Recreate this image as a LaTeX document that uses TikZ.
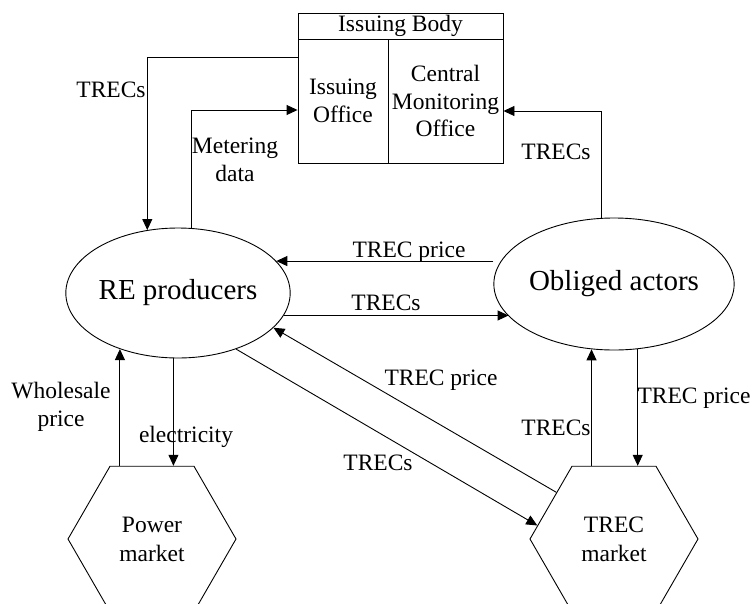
\documentclass[tikz,border=0pt]{standalone}
\usepackage{fontspec}
\setmainfont{Liberation Serif}
\usetikzlibrary{shapes.geometric,arrows.meta}
\begin{document}
\begin{tikzpicture}[x=1pt,y=-1pt,
  lbl/.style={font=\fontsize{23.5}{27.5}\selectfont, inner sep=0pt, align=center},
  arr/.style={-{Triangle[length=11pt,width=10pt]}, line width=0.9pt},
  boxnode/.style={draw, line width=0.9pt, inner sep=0pt, align=center, font=\fontsize{23.5}{27.5}\selectfont},
  ell/.style={ellipse, draw, line width=0.9pt, inner sep=0pt, font=\fontsize{29}{34}\selectfont},
  hex/.style={regular polygon, regular polygon sides=6, draw, line width=0.9pt, inner sep=0pt, minimum size=168pt, align=center, font=\fontsize{23.5}{29}\selectfont}]
\clip (0,0) rectangle (753,603);
% Issuing body
\node[boxnode, minimum width=205pt, minimum height=26pt] (ib) at (400.5,26) {Issuing Body};
\node[boxnode, minimum width=90pt, minimum height=124pt] (io) at (343,101) {Issuing\\Office};
\node[boxnode, minimum width=115pt, minimum height=124pt] (cmo) at (445.5,101) {Central\\Monitoring\\Office};
% actors
\node[ell, minimum width=221pt, minimum height=130pt] (re) at (178,293) {RE producers};
\node[ell, minimum width=222pt, minimum height=132pt] (oa) at (614,284) {Obliged actors};
\node[hex] (pm) at (152,539) {Power\\market};
\node[hex] (tm) at (614,539) {TREC\\market};
% connectors
\draw[arr] ([yshift=44pt]io.west) -| (re.116);
\draw[arr] (re.78) |- ([yshift=-9pt]io.west);
\draw[arr] (oa.101) |- ([yshift=-10pt]cmo.east);
\draw[arr] (oa.west |- re.18) -- (re.18);
\draw[arr] (re.-12) -- (re.-12 -| oa.197);
\draw[arr] (tm.141) -- (re.-20);
\draw[arr] (re.-44) -- (tm.170);
\draw[arr] (pm.north -| re.224) -- (re.224);
\draw[arr] (re.266) -- (re.266 |- pm.north);
\draw[arr] (oa.251 |- tm.north) -- (oa.251);
\draw[arr] (oa.290) -- (oa.290 |- tm.north);
% labels
\node[lbl] (l1) at (111,90) {TRECs};
\node[lbl] (l2) at (235,160) {Metering\\data};
\node[lbl] (l3) at (556,152) {TRECs};
\node[lbl] (l4) at (409,252) {TREC price};
\node[lbl] (l5) at (386,303) {TRECs};
\node[lbl] (l6) at (441,380) {TREC price};
\node[lbl] (l7) at (378,463) {TRECs};
\node[lbl] (l8) at (61,407) {Wholesale\\price};
\node[lbl] (l9) at (186,437) {electricity};
\node[lbl] (l10) at (556,428) {TRECs};
\node[lbl] (l11) at (694,398) {TREC price};
\end{tikzpicture}
\end{document}
